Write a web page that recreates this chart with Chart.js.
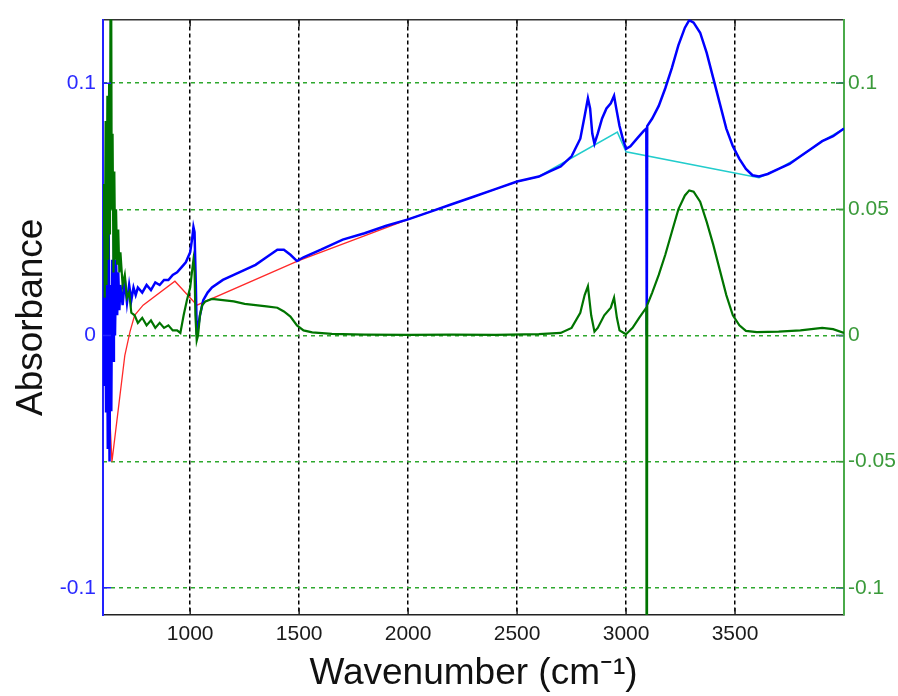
<!DOCTYPE html>
<html>
<head>
<meta charset="utf-8">
<script src="https://cdn.jsdelivr.net/npm/chart.js@4.4.1/dist/chart.umd.min.js"></script>
<style>
  html, body { margin: 0; padding: 0; background: #fff; }
  #wrap { width: 898px; height: 696px; }
</style>
</head>
<body>
<div id="wrap"><canvas id="ftir" width="898" height="696"></canvas></div>
<script>
/* ===============================
   DATA
================================ */
const xTicks = [1000, 1500, 2000, 2500, 3000, 3500];
const leftTicks = [-0.1, 0, 0.1];
const rightTicks = [-0.1, -0.05, 0, 0.05, 0.1];

// raw absorbance (blue, left axis)
const rawWn = [602, 606, 610, 614, 618, 622, 626, 630, 634, 638, 642, 646, 650, 655, 660, 665, 670, 675, 680, 690,
  700, 710, 720, 730, 740, 750, 760, 780, 800, 820, 840, 860, 880, 900, 920, 940, 960, 980, 1000, 1010,
  1015, 1020, 1026, 1030, 1036, 1045, 1060, 1080, 1100, 1150, 1200, 1250, 1300, 1350, 1400, 1430, 1460, 1490, 1520, 1600,
  1700, 1800, 1900, 2000, 2100, 2200, 2300, 2400, 2500, 2600, 2650, 2700, 2750, 2790, 2810, 2825, 2835, 2845, 2855, 2870,
  2890, 2910, 2930, 2945, 2955, 2970, 2985, 3000, 3020, 3050, 3080, 3093, 3095, 3097, 3120, 3150, 3180, 3210, 3240, 3270,
  3290, 3310, 3340, 3370, 3400, 3430, 3460, 3490, 3520, 3550, 3580, 3610, 3650, 3700, 3750, 3800, 3850, 3900, 3950, 4000];
const rawAbs = [0.06, -0.02, 0.05, -0.03, 0.03, -0.045, 0.045, -0.05, 0.02, -0.03, 0.03, -0.01, 0.04, 0.0, 0.03, 0.008, 0.025, 0.01, 0.02, 0.012,
  0.022, 0.013, 0.02, 0.014, 0.019, 0.016, 0.019, 0.017, 0.02, 0.018, 0.021, 0.02, 0.022, 0.022, 0.024, 0.025, 0.027, 0.029, 0.033, 0.039,
  0.043, 0.041, 0.02, 0.002, 0.003, 0.008, 0.014, 0.017, 0.019, 0.022, 0.024, 0.026, 0.028, 0.031, 0.034, 0.034, 0.032, 0.0295, 0.031, 0.034,
  0.038, 0.0405, 0.0435, 0.046, 0.049, 0.052, 0.055, 0.058, 0.061, 0.063, 0.065, 0.067, 0.071, 0.078, 0.087, 0.094, 0.09, 0.08, 0.076, 0.08,
  0.086, 0.09, 0.092, 0.095, 0.09, 0.083, 0.078, 0.074, 0.075, 0.078, 0.081, 0.082, 0.0, 0.083, 0.086, 0.091, 0.098, 0.106, 0.115, 0.122,
  0.125, 0.124, 0.12, 0.112, 0.102, 0.092, 0.082, 0.075, 0.07, 0.066, 0.0635, 0.063, 0.064, 0.066, 0.068, 0.071, 0.074, 0.077, 0.079, 0.082];

// baseline, low range (red, left axis)
const baseWn = [600, 606, 612, 620, 630, 641, 700, 724, 745, 784, 930, 1031, 1495, 2000, 2500, 2600];
const baseAbs = [0.06, 0.045, 0.055, 0.0, -0.03, -0.05, -0.008, 0.0015, 0.008, 0.012, 0.0215, 0.012, 0.0296, 0.046, 0.061, 0.063];

// baseline, high range (cyan, left axis)
const base2Wn = [2600, 2960, 3000, 3610, 3700, 3800, 3900, 4000];
const base2Abs = [0.063, 0.0806, 0.0728, 0.0625, 0.066, 0.071, 0.077, 0.082];

// baseline-corrected (green, right axis)
const corrWn = [600, 604, 608, 612, 616, 620, 624, 628, 632, 636, 640, 644, 648, 652, 656, 660, 665, 670, 675, 680,
  690, 700, 710, 720, 730, 745, 760, 780, 800, 820, 840, 860, 880, 900, 920, 940, 955, 970, 985, 1000,
  1008, 1015, 1020, 1024, 1030, 1036, 1045, 1055, 1070, 1100, 1150, 1200, 1250, 1300, 1350, 1400, 1430, 1460, 1490, 1520,
  1560, 1650, 1800, 2000, 2200, 2400, 2600, 2700, 2750, 2790, 2810, 2825, 2840, 2855, 2870, 2900, 2930, 2945, 2958, 2970,
  2990, 3000, 3030, 3060, 3093, 3095, 3097, 3120, 3150, 3180, 3210, 3240, 3270, 3290, 3310, 3340, 3370, 3400, 3430, 3460,
  3490, 3520, 3550, 3600, 3700, 3800, 3900, 3950, 4000];
const corrAbs = [0.04, 0.06, 0.015, 0.085, 0.02, 0.095, 0.03, 0.1, 0.04, 0.2, 0.05, 0.08, 0.025, 0.065, 0.03, 0.05, 0.028, 0.042, 0.025, 0.033,
  0.02, 0.024, 0.015, 0.017, 0.009, 0.008, 0.005, 0.007, 0.004, 0.006, 0.003, 0.005, 0.003, 0.004, 0.002, 0.002, 0.001, 0.008, 0.014, 0.019,
  0.025, 0.03, 0.026, 0.008, -0.002, 0.0, 0.008, 0.012, 0.0135, 0.0145, 0.014, 0.0135, 0.0125, 0.012, 0.0115, 0.011, 0.0095, 0.0075, 0.004, 0.002,
  0.0012, 0.0006, 0.0003, 0.0002, 0.0003, 0.0002, 0.0005, 0.001, 0.003, 0.009, 0.016, 0.0195, 0.008, 0.0015, 0.003, 0.008, 0.011, 0.015, 0.007, 0.002,
  0.001, 0.0005, 0.003, 0.007, 0.011, -0.3, 0.012, 0.017, 0.024, 0.032, 0.041, 0.05, 0.0555, 0.0575, 0.057, 0.053, 0.045, 0.036, 0.026, 0.016,
  0.008, 0.004, 0.0018, 0.0013, 0.0015, 0.002, 0.003, 0.0025, 0.001];

/* ===============================
   HELPERS
================================ */
const FONT = "'Liberation Sans', Arial, sans-serif";
Chart.defaults.font.family = FONT;

function pts(xs, ys) {
    return xs.map((x, i) => ({ x: x, y: ys[i] }));
}

function fixTicks(list) {
    return scale => { scale.ticks = list.map(v => ({ value: v })); };
}

const fmt = v => String(+v.toFixed(2));

// MATLAB-style short ticks pointing into the plot box
const innerTicks = {
    id: "innerTicks",
    afterDatasetsDraw(chart) {
        const { ctx, chartArea: a, scales } = chart;
        ctx.save();
        ctx.lineWidth = 1.5;
        ctx.strokeStyle = "#222";
        xTicks.forEach(v => {
            const px = scales.x.getPixelForValue(v);
            ctx.beginPath();
            ctx.moveTo(px, a.bottom); ctx.lineTo(px, a.bottom - 7);
            ctx.moveTo(px, a.top); ctx.lineTo(px, a.top + 7);
            ctx.stroke();
        });
        ctx.strokeStyle = "#2222ff";
        leftTicks.forEach(v => {
            const py = scales.y.getPixelForValue(v);
            ctx.beginPath();
            ctx.moveTo(a.left, py); ctx.lineTo(a.left + 8, py);
            ctx.moveTo(a.right, py); ctx.lineTo(a.right - 8, py);
            ctx.stroke();
        });
        ctx.strokeStyle = "#3a9a3a";
        rightTicks.forEach(v => {
            const py = scales.y2.getPixelForValue(v);
            ctx.beginPath();
            ctx.moveTo(a.right, py); ctx.lineTo(a.right - 8, py);
            ctx.stroke();
        });
        ctx.restore();
    }
};

/* ===============================
   CHART
================================ */
const Y_MIN = -0.1108, Y_MAX = 0.1252;

new Chart(document.getElementById("ftir").getContext("2d"), {
    type: "line",
    data: {
        datasets: [
            { data: pts(corrWn, corrAbs), yAxisID: "y2", borderColor: "#007400", borderWidth: 2.2, order: 0 },
            { data: pts(rawWn, rawAbs), yAxisID: "y", borderColor: "#0000ff", borderWidth: 2.5, order: 1 },
            { data: pts(base2Wn, base2Abs), yAxisID: "y", borderColor: "#22cccc", borderWidth: 1.5, order: 2 },
            { data: pts(baseWn, baseAbs), yAxisID: "y", borderColor: "#ff2a2a", borderWidth: 1.3, order: 3 }
        ]
    },
    options: {
        responsive: false,
        animation: false,
        layout: { padding: 0 },
        elements: { point: { radius: 0 }, line: { tension: 0 } },
        plugins: { legend: { display: false }, tooltip: { enabled: false } },
        scales: {
            x: {
                type: "linear", position: "bottom", min: 600, max: 4000,
                afterBuildTicks: fixTicks(xTicks),
                afterFit: s => { s.height = 81; },
                grid: { color: "#000", lineWidth: 1.5, drawTicks: false },
                border: { display: true, color: "#222", width: 1.5, dash: [4, 3] },
                ticks: { padding: 7, color: "#1a1a1a", font: { size: 21 }, maxRotation: 0, autoSkip: false, callback: v => String(v) },
                title: { display: true, text: "Wavenumber (cm\u207B\u00B9)", color: "#111", font: { size: 37 }, padding: { top: -2, bottom: 0 } }
            },
            xTop: {
                type: "linear", position: "top", min: 600, max: 4000,
                afterFit: s => { s.height = 15; },
                grid: { display: false, drawTicks: false },
                border: { display: true, color: "#333", width: 1.5 },
                ticks: { display: false }
            },
            y: {
                type: "linear", position: "left", min: Y_MIN, max: Y_MAX,
                afterBuildTicks: fixTicks(leftTicks),
                afterFit: s => { s.width = 103; },
                grid: { display: false, drawTicks: false },
                border: { display: true, color: "#2222ff", width: 2 },
                ticks: { padding: 7, color: "#2a2aff", font: { size: 21 }, callback: fmt },
                title: { display: true, text: "Absorbance", color: "#111", font: { size: 37 }, padding: { top: 10, bottom: 0 } }
            },
            y2: {
                type: "linear", position: "right", min: Y_MIN, max: Y_MAX,
                afterBuildTicks: fixTicks(rightTicks),
                afterFit: s => { s.width = 54; },
                grid: { color: "#2ea82e", lineWidth: 1.5, drawTicks: false },
                border: { display: true, color: "#4aaa4a", width: 2, dash: [4, 4] },
                ticks: { padding: 4, color: "#3a9a3a", font: { size: 21 }, callback: fmt }
            }
        }
    },
    plugins: [innerTicks]
});
</script>
</body>
</html>
